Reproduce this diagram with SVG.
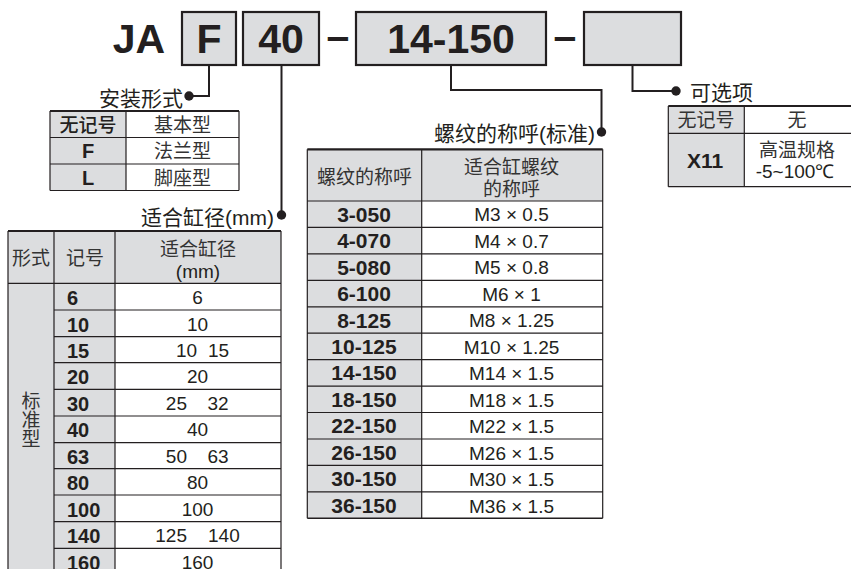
<svg xmlns="http://www.w3.org/2000/svg" width="851" height="569" viewBox="0 0 851 569">
<style>
.bg{fill:#ffffff}
.box{fill:#dcdddf;stroke:#231f20;stroke-width:2.2}
.g{fill:#dcdddf}
.w{fill:#ffffff}
.ln{stroke:#231f20;stroke-width:1.2;fill:none}
.tk{stroke:#231f20;stroke-width:2.2;fill:none}
.conn{stroke:#231f20;stroke-width:2;fill:none}
.dot{fill:#231f20}
.big{font-family:"Liberation Sans",Arial,sans-serif;font-weight:bold;font-size:41px;fill:#231f20;text-anchor:middle}
.lab{font-family:"Liberation Sans","Noto Sans CJK SC",sans-serif;font-size:21px;fill:#231f20}
.cj{font-family:"Noto Sans CJK SC","Liberation Sans",sans-serif;font-size:19px;fill:#333333;text-anchor:middle}
.cjb{font-family:"Noto Sans CJK SC","Liberation Sans",sans-serif;font-size:19px;font-weight:500;fill:#231f20;text-anchor:middle}
.b{font-family:"Liberation Sans",Arial,sans-serif;font-weight:bold;font-size:20px;fill:#231f20}
.b21{font-family:"Liberation Sans",Arial,sans-serif;font-weight:bold;font-size:21px;fill:#231f20;text-anchor:middle}
.n{font-family:"Liberation Sans",Arial,sans-serif;font-size:19px;fill:#231f20}
.m{text-anchor:middle}
.e{text-anchor:end}
</style>
<rect class="bg" x="0" y="0" width="851" height="569"/>

<g id="model-code">
  <text class="big" x="139" y="53">JA</text>
  <g id="box-mount"><rect class="box" x="182" y="12" width="54" height="53"/><text class="big" x="209" y="53">F</text></g>
  <g id="box-bore"><rect class="box" x="243" y="12" width="76" height="53"/><text class="big" x="281" y="53">40</text></g>
  <text class="big" x="338" y="50">–</text>
  <g id="box-thread"><rect class="box" x="356" y="12" width="190" height="53"/><text class="big" x="451" y="53">14-150</text></g>
  <text class="big" x="565" y="50">–</text>
  <g id="box-option"><rect class="box" x="584" y="12" width="97" height="53"/></g>
</g>

<g id="connectors">
  <polyline class="conn" points="209,65 209,96 189,96"/>
  <circle class="dot" cx="189" cy="96" r="4.7"/>
  <polyline class="conn" points="281.5,65 281.5,215"/>
  <circle class="dot" cx="281.5" cy="215" r="4.7"/>
  <polyline class="conn" points="451,65 451,90 601.5,90 601.5,132"/>
  <circle class="dot" cx="601.5" cy="132" r="4.7"/>
  <polyline class="conn" points="632.5,65 632.5,91 676,91"/>
  <circle class="dot" cx="676" cy="91" r="4.7"/>
</g>

<g id="mount-table">
  <text class="lab" x="183" y="106" text-anchor="end">安装形式</text>
  <rect class="g" x="50" y="111" width="76" height="79.5"/>
  <rect class="w" x="126" y="111" width="113" height="79.5"/>
  <path class="ln" d="M50,137.5H239M50,164H239M126,111V190.5M50,111V190.5M239,111V190.5M50,190.5H239"/>
  <path class="tk" d="M50,111H239"/>
  <text class="cjb" x="88" y="131.5">无记号</text>
  <text class="b m" x="88" y="158">F</text>
  <text class="b m" x="88" y="184.5">L</text>
  <text class="cj" x="182.5" y="131.5">基本型</text>
  <text class="cj" x="182.5" y="158">法兰型</text>
  <text class="cj" x="182.5" y="184.5">脚座型</text>
</g>

<g id="bore-table">
  <text class="lab" x="274" y="225" text-anchor="end">适合缸径(mm)</text>
  <rect class="g" x="8" y="231" width="107" height="345"/>
  <rect class="g" x="115" y="231" width="166" height="52.3"/>
  <rect class="w" x="115" y="283.3" width="166" height="292"/>
  <path class="ln" d="M8,283.3H281M54,310H281M54,336.7H281M54,362.7H281M54,389.3H281M54,416H281M54,442.7H281M54,468.7H281M54,495H281M54,521.7H281M54,548.3H281M8,231V576M54,231V576M115,231V576M281,231V576"/>
  <path class="tk" d="M8,231H281"/>
  <text class="cj" x="31" y="265">形式</text>
  <text class="cj" x="85" y="265">记号</text>
  <text class="cj" x="198" y="256">适合缸径</text>
  <text class="n m" x="198" y="278">(mm)</text>
  <text class="cj" x="31" y="391" style="writing-mode:vertical-rl;text-anchor:start">标准型</text>
  <text class="b" x="67" y="305">6</text>
  <text class="b" x="67" y="331.5">10</text>
  <text class="b" x="67" y="358">15</text>
  <text class="b" x="67" y="384">20</text>
  <text class="b" x="67" y="410.5">30</text>
  <text class="b" x="67" y="437">40</text>
  <text class="b" x="67" y="463.5">63</text>
  <text class="b" x="67" y="490">80</text>
  <text class="b" x="67" y="516.5">100</text>
  <text class="b" x="67" y="543">140</text>
  <text class="b" x="67" y="569.5">160</text>
  <text class="n m" x="197.5" y="304">6</text>
  <text class="n m" x="197.5" y="330.5">10</text>
  <text class="n" x="176" y="357">10</text><text class="n" x="208" y="357">15</text>
  <text class="n m" x="197.5" y="383">20</text>
  <text class="n e" x="187" y="409.5">25</text><text class="n" x="207.5" y="409.5">32</text>
  <text class="n m" x="197.5" y="436">40</text>
  <text class="n e" x="187" y="462.5">50</text><text class="n" x="207.5" y="462.5">63</text>
  <text class="n m" x="197.5" y="489">80</text>
  <text class="n m" x="197.5" y="515.5">100</text>
  <text class="n e" x="187" y="542">125</text><text class="n" x="208" y="542">140</text>
  <text class="n m" x="197.5" y="568.5">160</text>
</g>

<g id="thread-table">
  <text class="lab" x="595" y="141" text-anchor="end">螺纹的称呼(标准)</text>
  <rect class="g" x="307.3" y="149.3" width="114.4" height="369"/>
  <rect class="g" x="421.7" y="149.3" width="181" height="51.7"/>
  <rect class="w" x="421.7" y="201" width="181" height="317.3"/>
  <path class="ln" d="M307.3,201H602.7M307.3,227.4H602.7M307.3,253.9H602.7M307.3,280.3H602.7M307.3,306.8H602.7M307.3,333.2H602.7M307.3,359.6H602.7M307.3,386.1H602.7M307.3,412.5H602.7M307.3,439H602.7M307.3,465.4H602.7M307.3,491.8H602.7M307.3,149.3V518.3M421.7,149.3V518.3M602.7,149.3V518.3"/>
  <path class="tk" d="M307.3,149.3H602.7"/>
  <path class="ln" d="M307.3,518.3H602.7" style="stroke-width:1.6"/>
  <text class="cj" x="364.5" y="184">螺纹的称呼</text>
  <text class="cj" x="511.5" y="174"><tspan x="511.5" y="174">适合缸螺纹</tspan><tspan x="511.5" y="196">的称呼</tspan></text>
  <text class="b21" x="364" y="221.7">3-050</text>
  <text class="b21" x="364" y="248.2">4-070</text>
  <text class="b21" x="364" y="274.6">5-080</text>
  <text class="b21" x="364" y="301">6-100</text>
  <text class="b21" x="364" y="327.5">8-125</text>
  <text class="b21" x="364" y="353.9">10-125</text>
  <text class="b21" x="364" y="380.4">14-150</text>
  <text class="b21" x="364" y="406.8">18-150</text>
  <text class="b21" x="364" y="433.2">22-150</text>
  <text class="b21" x="364" y="459.7">26-150</text>
  <text class="b21" x="364" y="486.1">30-150</text>
  <text class="b21" x="364" y="512.6">36-150</text>
  <text class="n m" x="511.5" y="221">M3 × 0.5</text>
  <text class="n m" x="511.5" y="247.5">M4 × 0.7</text>
  <text class="n m" x="511.5" y="274">M5 × 0.8</text>
  <text class="n m" x="511.5" y="300.5">M6 × 1</text>
  <text class="n m" x="511.5" y="327">M8 × 1.25</text>
  <text class="n m" x="511.5" y="353.5">M10 × 1.25</text>
  <text class="n m" x="511.5" y="380">M14 × 1.5</text>
  <text class="n m" x="511.5" y="406.5">M18 × 1.5</text>
  <text class="n m" x="511.5" y="433">M22 × 1.5</text>
  <text class="n m" x="511.5" y="459.5">M26 × 1.5</text>
  <text class="n m" x="511.5" y="486">M30 × 1.5</text>
  <text class="n m" x="511.5" y="512.5">M36 × 1.5</text>
</g>

<g id="option-table">
  <text class="lab" x="690" y="100">可选项</text>
  <rect class="g" x="668.3" y="106" width="76" height="80.7"/>
  <rect class="w" x="744.3" y="106" width="108" height="80.7"/>
  <path class="ln" d="M668.3,133.3H852M668.3,186.7H852M668.3,106V186.7M744.3,106V186.7"/>
  <path class="tk" d="M668.3,106H852"/>
  <text class="cj" x="706" y="127">无记号</text>
  <text class="cj" x="797" y="127">无</text>
  <text class="b21" x="705" y="167.5">X11</text>
  <text class="cj" x="797" y="157">高温规格</text>
  <text class="n m" x="795" y="178">-5~100℃</text>
</g>
</svg>
